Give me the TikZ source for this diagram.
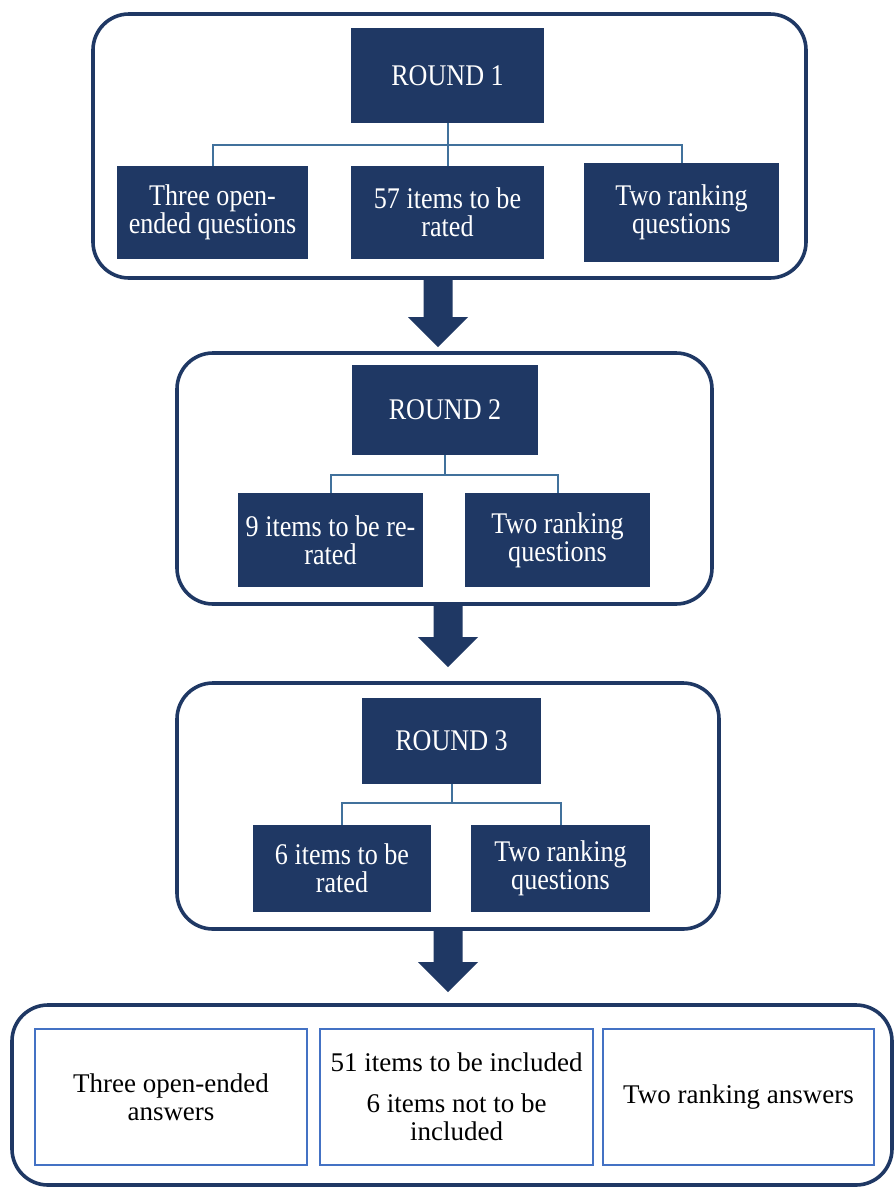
\documentclass[tikz,border=0pt]{standalone}
\usepackage{fontspec}
\setmainfont{Liberation Serif}
\newfontfamily\condfont[FakeStretch=0.87]{Liberation Serif}
\usetikzlibrary{calc}
\definecolor{navy}{RGB}{31,56,100}
\definecolor{connblue}{RGB}{65,113,156}
\definecolor{lblue}{RGB}{68,114,196}
\newcommand\blockarrow[3]{%
  \fill[navy] ($(#1)+(-14.5,-2)$) -- ($(#2)+(-14.5,-#3)$) -- ($(#2)+(-30,-#3)$) -- (#2)
    -- ($(#2)+(30,-#3)$) -- ($(#2)+(14.5,-#3)$) -- ($(#1)+(14.5,-2)$) -- cycle;}
\begin{document}
\begin{tikzpicture}[x=1pt,y=-1pt,
  sz/.style 2 args={minimum width=#1pt,minimum height=#2pt},
  outerbox/.style={draw=navy,line width=3.6pt,rounded corners=36pt,inner sep=0pt},
  navybox/.style={fill=navy,text=white,inner sep=0pt,align=center,font=\condfont\fontsize{30}{28}\selectfont},
  whitebox/.style={draw=lblue,line width=1.3pt,fill=white,inner sep=0pt,align=center,font=\fontsize{27}{28}\selectfont},
  conn/.style={draw=connblue,line width=2pt}]
\useasboundingbox (0,0) rectangle (894,1187);
\fill[white] (0,0) rectangle (894,1187);

% ---------- Round 1 ----------
\node[outerbox,sz={713}{264}] (r1) at (449.5,146) {};
\node[navybox,sz={193}{95}] (t1) at (447.5,75.5) {ROUND 1};
\node[navybox,sz={191}{93}] (c11) at (212.5,212.5) {Three open-\\ended questions};
\node[navybox,sz={193}{93}] (c12) at (447.5,212.5) {57 items to be\\rated};
\node[navybox,sz={195}{99}] (c13) at (681.5,212.5) {Two ranking\\questions};
\draw[conn] (t1.south) -- ++(0,22) -| (c11.north);
\draw[conn] (t1.south) -- ++(0,22) -| (c13.north);
\draw[conn] (t1.south) -- (c12.north);

% ---------- Round 2 ----------
\node[outerbox,sz={535}{251}] (r2) at (444.5,478.5) {};
\node[navybox,sz={186}{90}] (t2) at (445,410) {ROUND 2};
\node[navybox,sz={185}{94}] (c21) at (330.5,540) {9 items to be re-\\rated};
\node[navybox,sz={185}{94}] (c22) at (557.5,540) {Two ranking\\questions};
\draw[conn] (t2.south) -- ++(0,20) -| (c21.north);
\draw[conn] (t2.south) -- ++(0,20) -| (c22.north);

% ---------- Round 3 ----------
\node[outerbox,sz={542}{246}] (r3) at (448,806) {};
\node[navybox,sz={179}{86}] (t3) at (451.5,741) {ROUND 3};
\node[navybox,sz={178}{87}] (c31) at (342,868.5) {6 items to be\\rated};
\node[navybox,sz={179}{87}] (c32) at (560.5,868.5) {Two ranking\\questions};
\draw[conn] (t3.south) -- ++(0,19) -| (c31.north);
\draw[conn] (t3.south) -- ++(0,19) -| (c32.north);

% ---------- Results ----------
\node[outerbox,sz={880}{180}] (r4) at (452,1095) {};
\node[whitebox,sz={272}{136}] (b1) at (171,1097) {Three open-ended\\answers};
\node[whitebox,sz={273}{136}] (b2) at (456.5,1097) {51 items to be included\\[13pt]6 items not to be\\included};
\node[whitebox,sz={271}{136}] (b3) at (738.5,1097) {Two ranking answers};

% ---------- Block arrows ----------
\coordinate (x1) at (438,0);
\coordinate (x2) at (448,0);
\coordinate (a1s) at (r1.south -| x1);
\coordinate (a1e) at ($(r2.north -| x1)+(0,-4)$);
\coordinate (a2s) at (r2.south -| x2);
\coordinate (a2e) at ($(r3.north -| x2)+(0,-14)$);
\coordinate (a3s) at (r3.south -| x2);
\coordinate (a3e) at ($(r4.north -| x2)+(0,-11)$);
\blockarrow{a1s}{a1e}{30}
\blockarrow{a2s}{a2e}{30}
\blockarrow{a3s}{a3e}{30}
\end{tikzpicture}
\end{document}
